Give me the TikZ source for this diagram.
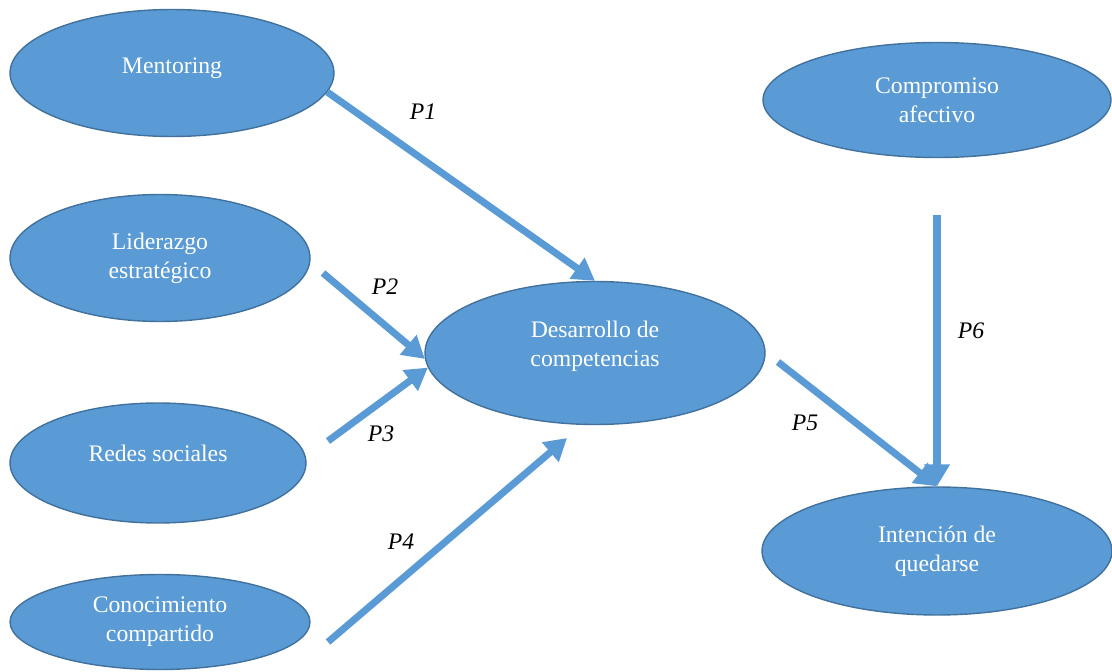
\documentclass[tikz,border=0pt]{standalone}
\usepackage{fontspec}
\setmainfont{Liberation Serif}
\usetikzlibrary{shapes.geometric,arrows.meta}

\definecolor{ovalfill}{HTML}{5B9BD5}
\definecolor{ovalline}{HTML}{41719C}

\begin{document}
\begin{tikzpicture}[x=0.02cm, y=-0.02cm,
    main/.style = {draw=ovalline, line width=0.8pt, fill=ovalfill, ellipse, inner sep=0pt,
                   text=white, align=center, font=\fontsize{13.5}{16.5}\selectfont},
    link/.style = {draw=ovalfill, line width=4pt, -{Triangle[length=12.5pt,width=14pt]}},
    plabel/.style = {font=\fontsize{13.5}{16.5}\selectfont\itshape}]
        \useasboundingbox (0,0) rectangle (1112,672);
        \clip (0,0) rectangle (1112,672);
        \node[main, minimum width=6.48cm, minimum height=2.54cm, text depth=8.5pt] (ment) at (172,73) {Mentoring};
        \node[main, minimum width=6cm, minimum height=2.54cm] (lid) at (160,258) {Liderazgo\\estratégico};
        \node[main, minimum width=5.92cm, minimum height=2.4cm, text depth=11.4pt] (red) at (158,463) {Redes sociales};
        \node[main, minimum width=6cm, minimum height=1.9cm] (con) at (160,622) {Conocimiento\\compartido};
        \node[main, minimum width=6.8cm, minimum height=2.86cm, text depth=10.7pt] (des) at (595,353) {Desarrollo de\\competencias};
        \node[main, minimum width=6.96cm, minimum height=2.3cm] (com) at (937,100) {Compromiso\\afectivo};
        \node[main, minimum width=7cm, minimum height=2.56cm] (int) at (937,551) {Intención de\\quedarse};
        % free ends of the arrows
        \coordinate (s2) at (323,273);
        \coordinate (s3) at (328,441);
        \coordinate (s4) at (328,642);
        \coordinate (e4) at (567,438);
        \coordinate (s5) at (778,362);
        \coordinate (s6) at (937,215);
        \draw [link] (ment.-7) -- (des.north);
        \draw [link] (s2) -- (des.182);
        \draw [link] (s3) -- (des.185);
        \draw [link] (s4) -- (e4);
        \draw [link] (s5) -- (int.north);
        \draw [link] (s6) -- (int.north);
        \node[plabel] (p1) at (423,112) {P1};
        \node[plabel] (p2) at (385,287) {P2};
        \node[plabel] (p3) at (381,434) {P3};
        \node[plabel] (p4) at (401,542) {P4};
        \node[plabel] (p5) at (805,423) {P5};
        \node[plabel] (p6) at (971,331) {P6};
    \end{tikzpicture}
\end{document}
